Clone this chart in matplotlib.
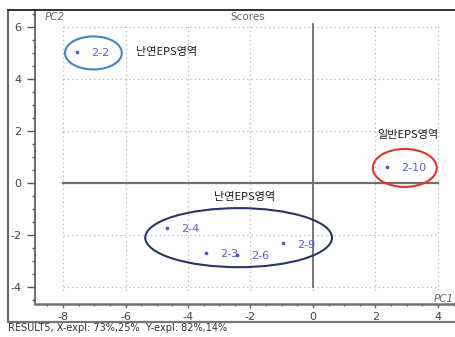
import matplotlib.pyplot as plt
from matplotlib.patches import Ellipse
from matplotlib.lines import Line2D
from matplotlib.ticker import MultipleLocator

plt.rcParams['font.family'] = ['Noto Sans CJK KR', 'DejaVu Sans']

# score values
samples = ['2-2', '2-4', '2-3', '2-6', '2-9', '2-10']
pc1 = [-7.55, -4.67, -3.42, -2.43, -0.96, 2.37]
pc2 = [5.04, -1.73, -2.69, -2.77, -2.31, 0.62]

# grouping ellipses: centre x, centre y, width, height, colour
groups_x = [-7.03, 2.94, -2.38]
groups_y = [5.0, 0.58, -2.1]
groups_w = [1.82, 2.05, 5.98]
groups_h = [1.27, 1.46, 2.27]
groups_c = ['#3f86c4', '#e0342c', '#2a3566']

region_labels = ['난연EPS영역', '일반EPS영역', '난연EPS영역']
region_x = [-4.7, 3.04, -2.18]
region_y = [5.04, 1.85, -0.54]

fig = plt.figure(figsize=(4.56, 3.37), dpi=100)
ax = fig.add_axes([35 / 456, 1 - 304 / 337, 1 - 35 / 456, (304 - 10) / 337])
ax.set_xlim(-8.9, 4.58)
ax.set_ylim(-4.65, 6.65)

# dotted grid inside the data box
xt = [-8, -6, -4, -2, 0, 2, 4]
yt = [-4, -2, 0, 2, 4, 6]
ax.vlines(xt, -4.1, 6.1, colors='#b5b5b5', linestyles=(0, (1, 2.5)), lw=0.9, zorder=1)
ax.hlines(yt, -8, 4, colors='#b5b5b5', linestyles=(0, (1, 2.5)), lw=0.9, zorder=1)

# origin lines
ax.plot([0, 0], [-4, 6.1], color='#6e6e6e', lw=1.3, zorder=2)
ax.plot([-8, 4], [0, 0], color='#6e6e6e', lw=1.6, zorder=2)

ax.scatter(pc1, pc2, s=2.5, color='#4b4bdc', zorder=4)
for name, x, y in zip(samples, pc1, pc2):
    ax.annotate(name, (x, y), xytext=(10, -1), textcoords='offset points',
                fontsize=8, color='#5a5ae0', va='center', ha='left',
                family=['DejaVu Sans'])

for x, y, w, h, c in zip(groups_x, groups_y, groups_w, groups_h, groups_c):
    ax.add_patch(Ellipse((x, y), w, h, fill=False, ec=c, lw=1.5, zorder=3))

for t, x, y in zip(region_labels, region_x, region_y):
    ax.text(x, y, t, fontsize=8, ha='center', va='center', color='#1a1a1a',
            fontweight='medium')

# axes look
ax.spines['right'].set_visible(False)
ax.spines['top'].set_color('#222222')
ax.spines['top'].set_linewidth(1.3)
ax.spines['left'].set_color('#555555')
ax.spines['left'].set_linewidth(1.2)
ax.spines['bottom'].set_color('#707070')
ax.spines['bottom'].set_linewidth(1.8)

ax.set_xticks(xt)
ax.set_yticks(yt)
ax.xaxis.set_minor_locator(MultipleLocator(0.5))
ax.yaxis.set_minor_locator(MultipleLocator(0.5))
ax.tick_params(axis='y', which='major', direction='out', length=6, width=1,
               color='#555555', labelsize=8, labelcolor='#444444', pad=4)
ax.tick_params(axis='y', which='minor', direction='out', length=2.5, width=1,
               color='#555555')
ax.tick_params(axis='x', which='major', direction='out', length=3, width=1,
               color='#666666', labelsize=8, labelcolor='#444444', pad=2.5)
ax.tick_params(axis='x', which='minor', direction='out', length=1.5, width=1,
               color='#666666')
ax.set_xticklabels([str(v) for v in xt], family=['DejaVu Sans'])
ax.set_yticklabels([str(v) for v in yt], family=['DejaVu Sans'])

ax.text(-8.6, 6.4, 'PC2', fontsize=7.5, style='italic', color='#666666',
        family=['DejaVu Sans'], va='center')
ax.text(-2.1, 6.4, 'Scores', fontsize=7.5, color='#666666',
        family=['DejaVu Sans'], va='center', ha='center')
ax.text(4.5, -4.45, 'PC1', fontsize=7.5, style='italic', color='#666666',
        family=['DejaVu Sans'], va='center', ha='right')

# outer frame of the screenshot
x0, ytop, ybot = 8 / 456, 1 - 10 / 337, 1 - 322 / 337
fig.add_artist(Line2D([x0, x0], [ybot, ytop], color='#444444', lw=1.2))
fig.add_artist(Line2D([x0, 35 / 456], [ytop, ytop], color='#222222', lw=1.3))
fig.add_artist(Line2D([x0, 1], [ybot, ybot], color='#777777', lw=1.6))
fig.text(x0, 1 - 328 / 337, 'RESULT5, X-expl: 73%,25%  Y-expl: 82%,14%',
         fontsize=7, color='#333333', va='center', ha='left',
         family=['DejaVu Sans'])

fig.savefig('out.png', dpi=100)
